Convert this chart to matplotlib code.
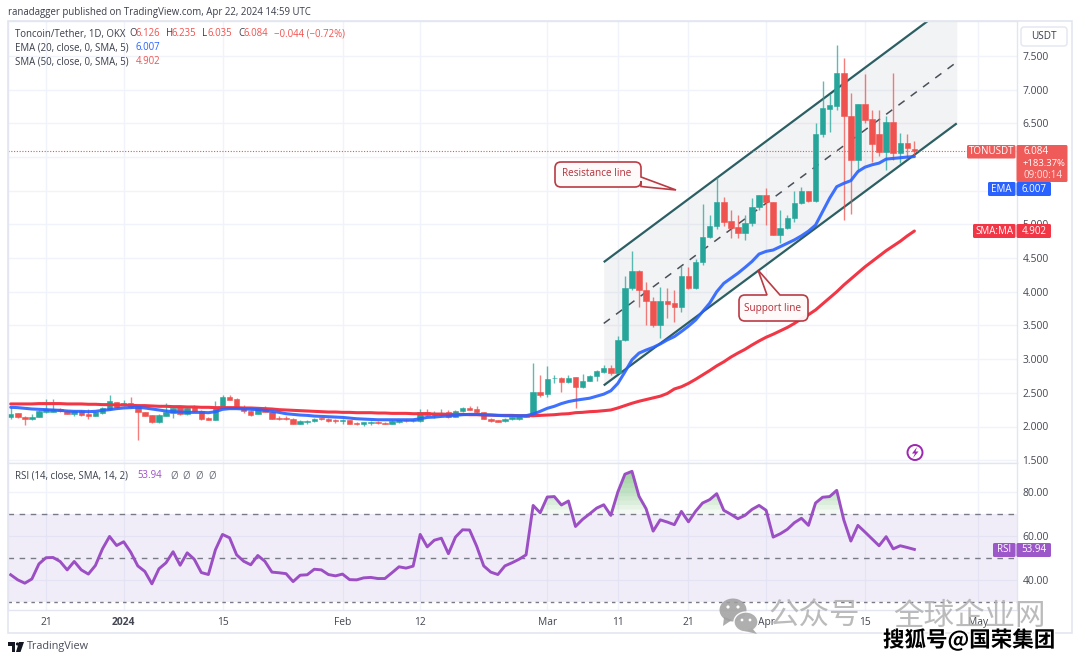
import numpy as np
import matplotlib
matplotlib.use("Agg")
import matplotlib.pyplot as plt
import matplotlib.patheffects as pe
from matplotlib.patches import FancyBboxPatch, Rectangle, Polygon, PathPatch, Circle, Ellipse
from matplotlib.path import Path

plt.rcParams['font.family'] = ['Open Sans', 'DejaVu Sans']

first_day = -5  # days counted from 21 Dec 2023
opens = [2.136, 2.196, 2.146, 2.11, 2.14,
         2.21, 2.22, 2.26, 2.23, 2.185, 2.225, 2.185, 2.15, 2.20, 2.26,
         2.365, 2.315, 2.35, 2.29, 2.22, 2.165, 2.07, 2.16, 2.20, 2.285,
         2.19, 2.29, 2.23, 2.125, 2.10, 2.275, 2.44, 2.41, 2.28, 2.23,
         2.185, 2.28, 2.22, 2.125, 2.125, 2.115, 2.035, 2.07, 2.075, 2.12,
         2.11, 2.09, 2.075, 2.09, 2.055, 2.04, 2.045, 2.065, 2.055, 2.04,
         2.06, 2.09, 2.08, 2.075, 2.21, 2.175, 2.18, 2.21, 2.145, 2.225,
         2.27, 2.26, 2.21, 2.115, 2.09, 2.08, 2.105, 2.11, 2.145, 2.156,
         2.51, 2.48, 2.715, 2.715, 2.655, 2.73, 2.585, 2.675, 2.75, 2.815,
         2.875, 2.80, 3.285, 4.05, 4.315, 4.03, 3.87, 3.51, 3.865, 3.83,
         3.78, 4.23, 4.05, 4.44, 4.81, 4.97, 5.33, 5.05, 4.96, 4.88,
         5.02, 5.265, 5.43, 5.335, 4.845, 4.94, 5.09, 5.315, 5.49, 5.35,
         6.34, 6.715, 6.765, 7.255, 6.61, 5.96, 6.785, 6.56, 6.34, 6.08,
         6.515, 6.055, 6.205, 6.126]
closes = [2.186, 2.14, 2.11, 2.146, 2.23,
          2.255, 2.255, 2.225, 2.185, 2.235, 2.17, 2.15, 2.21, 2.275, 2.375,
          2.29, 2.355, 2.29, 2.21, 2.16, 2.07, 2.17, 2.21, 2.275, 2.185,
          2.275, 2.225, 2.115, 2.10, 2.275, 2.44, 2.40, 2.275, 2.225, 2.175,
          2.275, 2.215, 2.115, 2.115, 2.115, 2.035, 2.075, 2.08, 2.115, 2.11,
          2.08, 2.08, 2.09, 2.035, 2.035, 2.06, 2.06, 2.045, 2.04, 2.08,
          2.09, 2.08, 2.095, 2.21, 2.165, 2.20, 2.20, 2.135, 2.235, 2.27,
          2.25, 2.21, 2.115, 2.08, 2.065, 2.115, 2.14, 2.15, 2.16, 2.51,
          2.47, 2.705, 2.725, 2.655, 2.725, 2.585, 2.675, 2.75, 2.825, 2.87,
          2.80, 3.285, 4.05, 4.315, 4.03, 3.87, 3.51, 3.865, 3.82, 3.78,
          4.23, 4.05, 4.44, 4.81, 4.98, 5.33, 5.04, 4.95, 4.88, 5.02,
          5.265, 5.43, 5.33, 4.845, 4.94, 5.09, 5.315, 5.49, 5.35, 6.34,
          6.725, 6.775, 7.255, 6.615, 5.96, 6.785, 6.55, 6.195, 6.08, 6.515,
          6.055, 6.205, 6.13, 6.084]
highs = [2.29, 2.20, 2.15, 2.19, 2.24,
         2.41, 2.41, 2.28, 2.24, 2.25, 2.24, 2.26, 2.22, 2.29, 2.47,
         2.37, 2.39, 2.44, 2.30, 2.22, 2.17, 2.18, 2.35, 2.28, 2.31,
         2.29, 2.325, 2.24, 2.14, 2.385, 2.47, 2.47, 2.42, 2.325, 2.25,
         2.28, 2.31, 2.23, 2.16, 2.15, 2.12, 2.09, 2.10, 2.12, 2.13,
         2.12, 2.11, 2.11, 2.095, 2.07, 2.07, 2.075, 2.075, 2.06, 2.10,
         2.10, 2.11, 2.11, 2.26, 2.26, 2.23, 2.26, 2.24, 2.24, 2.29,
         2.30, 2.31, 2.22, 2.12, 2.10, 2.13, 2.145, 2.16, 2.18, 2.95,
         2.76, 2.90, 2.76, 2.74, 2.765, 2.74, 2.775, 2.765, 2.84, 2.91,
         2.91, 3.35, 4.24, 4.60, 4.33, 4.14, 3.92, 4.075, 4.05, 4.03,
         4.39, 4.365, 4.48, 5.30, 5.14, 5.71, 5.40, 5.21, 5.14, 5.14,
         5.39, 5.44, 5.54, 5.34, 5.215, 5.14, 5.50, 5.56, 5.50, 6.50,
         7.13, 6.93, 7.67, 7.47, 6.95, 6.79, 7.23, 6.70, 6.70, 6.61,
         7.245, 6.355, 6.34, 6.235]
lows = [2.11, 2.13, 2.02, 2.10, 2.14,
        2.20, 2.21, 2.21, 2.18, 2.15, 2.16, 2.11, 2.15, 2.19, 2.25,
        2.28, 2.31, 2.28, 1.80, 2.15, 2.05, 2.05, 2.15, 2.125, 2.17,
        2.17, 2.22, 2.10, 2.09, 2.095, 2.27, 2.39, 2.27, 2.20, 2.16,
        2.18, 2.21, 2.11, 2.10, 2.10, 2.03, 2.03, 2.04, 2.07, 2.10,
        2.07, 2.05, 2.04, 2.03, 2.02, 2.01, 2.02, 2.04, 2.03, 2.03,
        2.05, 2.06, 2.07, 2.07, 2.16, 2.13, 2.15, 2.13, 2.14, 2.22,
        2.24, 2.20, 2.11, 2.07, 2.06, 2.07, 2.095, 2.10, 2.14, 2.15,
        2.44, 2.44, 2.65, 2.51, 2.64, 2.27, 2.565, 2.67, 2.68, 2.79,
        2.765, 2.795, 3.27, 4.02, 3.78, 3.51, 3.47, 3.32, 3.61, 3.55,
        3.70, 4.04, 4.04, 4.40, 4.795, 4.93, 4.97, 4.80, 4.80, 4.77,
        4.98, 5.215, 4.99, 4.84, 4.72, 4.93, 5.04, 5.30, 5.34, 5.34,
        6.30, 6.37, 6.70, 5.06, 5.155, 5.785, 6.50, 5.92, 6.02, 5.81,
        5.96, 5.91, 5.97, 6.035]
ema20 = [2.285, 2.28, 2.27, 2.26, 2.255,
         2.25, 2.245, 2.24, 2.23, 2.225, 2.225, 2.22, 2.225, 2.24, 2.25,
         2.265, 2.275, 2.28, 2.285, 2.275, 2.26, 2.245, 2.23, 2.22, 2.215,
         2.21, 2.21, 2.21, 2.205, 2.22, 2.255, 2.265, 2.265, 2.26, 2.255,
         2.25, 2.24, 2.225, 2.21, 2.19, 2.18, 2.17, 2.165, 2.155, 2.15,
         2.145, 2.14, 2.135, 2.125, 2.115, 2.11, 2.105, 2.10, 2.10, 2.10,
         2.10, 2.10, 2.10, 2.115, 2.135, 2.14, 2.15, 2.155, 2.165, 2.175,
         2.18, 2.18, 2.175, 2.17, 2.165, 2.16, 2.16, 2.16, 2.16, 2.186,
         2.225, 2.27, 2.30, 2.34, 2.37, 2.39, 2.405, 2.42, 2.45, 2.48,
         2.53, 2.64, 2.81, 2.99, 3.09, 3.135, 3.175, 3.225, 3.285, 3.335,
         3.41, 3.49, 3.58, 3.705, 3.83, 4.00, 4.125, 4.20, 4.275, 4.36,
         4.45, 4.56, 4.60, 4.62, 4.67, 4.72, 4.77, 4.83, 4.90, 4.99,
         5.19, 5.39, 5.56, 5.61, 5.65, 5.785, 5.85, 5.885, 5.91, 5.97,
         5.98, 5.99, 6.00, 6.007]
sma50 = [2.335, 2.335, 2.335, 2.335, 2.34,
         2.34, 2.34, 2.34, 2.335, 2.335, 2.335, 2.33, 2.33, 2.325, 2.325,
         2.32, 2.32, 2.315, 2.31, 2.31, 2.305, 2.30, 2.30, 2.295, 2.295,
         2.29, 2.29, 2.285, 2.285, 2.28, 2.28, 2.28, 2.28, 2.275, 2.275,
         2.27, 2.265, 2.26, 2.25, 2.245, 2.24, 2.235, 2.23, 2.225, 2.22,
         2.215, 2.215, 2.21, 2.21, 2.205, 2.205, 2.205, 2.20, 2.20, 2.195,
         2.195, 2.195, 2.19, 2.19, 2.19, 2.185, 2.185, 2.18, 2.18, 2.18,
         2.175, 2.175, 2.17, 2.17, 2.165, 2.165, 2.165, 2.16, 2.16, 2.16,
         2.165, 2.17, 2.175, 2.185, 2.19, 2.205, 2.21, 2.22, 2.225, 2.235,
         2.245, 2.275, 2.31, 2.345, 2.375, 2.40, 2.425, 2.45, 2.49, 2.557,
         2.59, 2.64, 2.70, 2.765, 2.83, 2.90, 2.96, 3.03, 3.09, 3.145,
         3.21, 3.27, 3.325, 3.37, 3.42, 3.47, 3.53, 3.60, 3.66, 3.73,
         3.82, 3.91, 4.00, 4.10, 4.19, 4.28, 4.37, 4.45, 4.53, 4.61,
         4.68, 4.75, 4.83, 4.902]
rsi = [42.5, 40.2, 38.7, 40.6, 47.4,
       50.2, 50.3, 48.5, 44.7, 48.5, 44.7, 42.8, 46.7, 54.2, 59.8,
       55.7, 57.4, 52.7, 46.5, 44.0, 38.4, 45.2, 47.9, 52.9, 46.8,
       52.4, 49.5, 43.5, 42.6, 53.8, 60.7, 59.2, 51.5, 48.6, 47.0,
       51.2, 48.6, 43.7, 43.4, 43.0, 39.4, 42.3, 42.5, 45.0, 44.7,
       42.6, 42.0, 42.8, 40.3, 40.2, 41.1, 41.3, 40.8, 40.8, 43.4,
       46.1, 45.5, 46.4, 60.7, 55.1, 58.1, 59.0, 52.0, 59.5, 62.8,
       62.7, 55.4, 46.5, 43.7, 42.6, 46.5, 47.9, 49.5, 51.5, 73.8,
       70.5, 77.6, 77.8, 74.0, 75.8, 64.3, 67.5, 70.0, 72.6, 74.1,
       69.3, 79.9, 87.9, 89.2, 77.9, 72.3, 62.2, 67.3, 66.3, 65.1,
       71.1, 66.4, 71.1, 74.9, 76.4, 79.1, 71.6, 69.8, 67.8, 69.3,
       72.0, 73.8, 71.6, 59.5, 61.0, 63.0, 66.0, 68.0, 64.8, 74.9,
       77.5, 77.8, 80.6, 67.3, 57.7, 64.8, 61.8, 58.7, 55.6, 59.7,
       54.2, 55.6, 54.8, 53.94]
price_ticks = [1.5, 2.0, 2.5, 3.0, 3.5, 4.0, 4.5, 5.0, 5.5, 6.0, 6.5, 7.0, 7.5]
hidden_price_labels = [5.5, 6.0]  # covered by the EMA / last-price labels in the reference
rsi_ticks = [40, 60, 80]
time_tick_days = [0, 11, 25, 42, 53, 71, 81, 91, 102, 116, 132]
time_tick_labels = ['21', '2024', '15', 'Feb', '12', 'Mar', '11', '21', 'Apr', '15', 'May']
channel_days = [79, 129]
channel_top = [4.44, 8.34]
channel_mid = [3.53, 7.41]
channel_low = [2.61, 6.50]

W, H = 1080, 662
UP, DOWN = '#26a69a', '#ef5350'
BLUE, RED, PURPLE = '#2962ff', '#f23645', '#9c4fc4'
GRID = '#f0f3fa'
FRAME = '#e3e6f0'
TXT = '#3a3e4a'
TICK = '#434651'
SMALL = 6.9

days = np.arange(first_day, first_day + len(opens))
fig = plt.figure(figsize=(W / 100, H / 100), dpi=100, facecolor='white')


def rect(x0, y0, x1, y1):
    return [x0 / W, 1 - y1 / H, (x1 - x0) / W, (y1 - y0) / H]


ax = fig.add_axes(rect(8, 21, 1017, 463))
ax2 = fig.add_axes(rect(8, 463, 1017, 610))
for a in (ax, ax2):
    a.set_xticks(time_tick_days)
    a.set_xlim((8 - 46) / 7.06, (1017 - 46) / 7.06)
    a.grid(True, axis='both', color=GRID, lw=1)
    a.set_axisbelow(True)
    a.yaxis.tick_right()
    for s in a.spines.values():
        s.set_color(FRAME)
        s.set_linewidth(1)

# price pane
ax.set_yticks(price_ticks)
ax.set_ylim(2 - (463 - 426.5) / 67.36, 2 + (426.5 - 21) / 67.36)
ax.set_yticklabels(['' if v in hidden_price_labels else f'{v:.3f}' for v in price_ticks],
                   fontsize=7.4, color=TICK)
ax.tick_params(axis='y', length=0, pad=4)
ax.tick_params(axis='x', length=0, labelbottom=False)

ax.fill_between(channel_days, channel_low, channel_top, color='#787b86', alpha=0.09, lw=0, zorder=1)
ax.plot(channel_days, channel_top, color='#2c5f63', lw=1.6, zorder=2, solid_capstyle='butt')
ax.plot(channel_days, channel_low, color='#2c5f63', lw=1.6, zorder=2, solid_capstyle='butt')
ax.plot(channel_days, channel_mid, color='#4a4f59', lw=1.1, ls=(0, (5, 5)), zorder=2)
ax.axhline(closes[-1], color=DOWN, lw=0.8, ls=(0, (1, 1.5)), zorder=2)

colors = [UP if c >= o else DOWN for o, c in zip(opens, closes)]
ax.vlines(days, lows, highs, colors=colors, lw=1.0, alpha=0.75, zorder=3)
ax.bar(days, np.abs(np.array(closes) - np.array(opens)), bottom=np.minimum(opens, closes),
       width=0.78, color=colors, edgecolor=colors, lw=0.4, zorder=4)
ax.plot(days, sma50, color=RED, lw=2.2, zorder=5, solid_capstyle='round')
ax.plot(days, ema20, color=BLUE, lw=2.2, zorder=6, solid_capstyle='round', alpha=0.9)

# RSI pane
ax2.set_yticks(rsi_ticks)
ax2.set_ylim(40 - (610 - 580.3) / 2.215, 40 + (580.3 - 463) / 2.215)
ax2.set_yticklabels([f'{v:.2f}' for v in rsi_ticks], fontsize=7.4, color=TICK)
ax2.tick_params(axis='y', length=0, pad=4)
ax2.set_xticklabels(time_tick_labels, fontsize=7.4, color=TICK)
ax2.get_xticklabels()[1].set_fontweight('bold')
ax2.tick_params(axis='x', length=0, pad=5)
ax2.axhspan(30, 70, color='#7e57c2', alpha=0.10, lw=0, zorder=1)
for lvl, dash in ((70, (4, 4)), (50, (4, 4)), (30, (2.5, 3))):
    ax2.plot(ax2.get_xlim(), [lvl, lvl], color='#787b86', lw=1, ls=(0, dash), zorder=2)
rsi_arr = np.array(rsi)
for lv in range(70, 90, 2):
    ax2.fill_between(days, lv, rsi_arr, where=rsi_arr > lv, interpolate=True,
                     color='#4caf50', alpha=0.07, lw=0, zorder=2)
ax2.plot(days, rsi, color=PURPLE, lw=2.1, zorder=4, solid_joinstyle='round')

# overlay in pixel coordinates
ov = fig.add_axes([0, 0, 1, 1], zorder=10)
ov.set_xlim(0, W)
ov.set_ylim(H, 0)
ov.axis('off')
ov.patch.set_alpha(0)
ov.add_patch(Rectangle((8, 21), 1064, 612, fill=False, ec=FRAME, lw=1.2, zorder=0))


def t(x, y, s, color=TXT, size=SMALL, ha='left', va='center', **kw):
    return ov.text(x, y, s, color=color, fontsize=size, ha=ha, va=va, zorder=6, **kw)


t(8, 12, 'ranadagger published on TradingView.com, Apr 22, 2024 14:59 UTC')
t(15, 34, 'Toncoin/Tether, 1D, OKX')
for x, s, c in [(129, 'O', TXT), (135, '6.126', DOWN), (166, 'H', TXT), (172, '6.235', DOWN),
                (202, 'L', TXT), (207, '6.035', DOWN), (238, 'C', TXT), (244, '6.084', DOWN),
                (274, '\u22120.044 (\u22120.72%)', DOWN)]:
    t(x, 34, s, color=c)
t(15, 48, 'EMA (20, close, 0, SMA, 5)')
t(136, 48, '6.007', color=BLUE)
t(15, 62, 'SMA (50, close, 0, SMA, 5)')
t(136, 62, '4.902', color=DOWN)
t(15, 476, 'RSI (14, close, SMA, 14, 2)')
t(137, 476, '53.94', color=PURPLE)
for x in (170, 182.5, 195, 208):
    t(x, 476, '\u00d8', color='#6a6d78')

# currency button
ov.add_patch(FancyBboxPatch((1021, 27), 46, 19, boxstyle='round,pad=0,rounding_size=3',
                            fc='white', ec=FRAME, lw=1, zorder=5))
t(1044, 36.5, 'USDT', ha='center', size=7.2)


def label(x0, y0, x1, y1, s, color, tcolor='white', ha='center', **kw):
    ov.add_patch(FancyBboxPatch((x0, y0), x1 - x0, y1 - y0, boxstyle='round,pad=0,rounding_size=1.5',
                                fc=color, ec='none', zorder=5))
    t((x0 + x1) / 2, (y0 + y1) / 2, s, color=tcolor, ha=ha, size=7.0, **kw)


label(967, 145, 1015.5, 158.5, 'TONUSDT', '#ef5b58')
ov.add_patch(FancyBboxPatch((1016.5, 145), 51, 37, boxstyle='round,pad=0,rounding_size=1.5',
                            fc='#ef5b58', ec='none', zorder=5))
t(1023, 152, f'{closes[-1]:.3f}', color='white', size=7.0)
t(1023, 164, '+183.37%', color='white', size=6.8)
t(1023, 175, '09:00:14', color='#ffe4e3', size=7.0)
label(988, 182, 1015.5, 196, 'EMA', BLUE)
label(1016.5, 182, 1051, 196, f'{ema20[-1]:.3f}', BLUE)
label(973, 224, 1015.5, 238, 'SMA:MA', RED)
label(1016.5, 224, 1051, 238, f'{sma50[-1]:.3f}', RED)
label(993, 543, 1015.5, 557, 'RSI', '#9c58c8')
label(1016.5, 543, 1051, 557, f'{rsi[-1]:.2f}', '#9c58c8')


def callout(x0, y0, x1, y1, r, tail, edge):
    """Rounded box with a pointer inserted on the right ('r') or top ('t') edge."""
    M, L, C = Path.MOVETO, Path.LINETO, Path.CURVE3
    v = [(x0 + r, y0)]
    c = [M]
    if edge == 't':
        for p in tail:
            v.append(p); c.append(L)
    v += [(x1 - r, y0), (x1, y0), (x1, y0 + r)]
    c += [L, C, C]
    if edge == 'r':
        for p in tail:
            v.append(p); c.append(L)
    v += [(x1, y1 - r), (x1, y1), (x1 - r, y1), (x0 + r, y1), (x0, y1), (x0, y1 - r),
          (x0, y0 + r), (x0, y0), (x0 + r, y0)]
    c += [L, C, C, L, C, C, L, C, C]
    ov.add_patch(PathPatch(Path(v, c), fc='#fffafa', ec='#b5303a', lw=1.2, zorder=5, alpha=0.95))


callout(555, 162, 641, 187, 6, [(641, 177), (676, 190), (641, 186.5)], 'r')
t(597, 174, 'Resistance line', color='#b5303a', ha='center', size=7.2)
callout(739, 295, 808, 321, 6, [(767, 295), (758, 270), (780, 295)], 't')
t(773, 308, 'Support line', color='#b5303a', ha='center', size=7.2)

# replay / flash icon
ov.add_patch(Circle((915, 452.5), 7.5, fc='white', ec='#9c27b0', lw=1.4, zorder=5))
ov.add_patch(Polygon([(917, 447), (912, 453.5), (915, 453.5), (913, 458), (918.5, 451.5), (915.5, 451.5)],
                     fc='#9c27b0', ec='none', zorder=6))

# TradingView logo
ov.add_patch(Polygon([(8, 642), (15, 642), (15, 652), (12, 652), (12, 646), (8, 646)], fc='#131722', ec='none'))
ov.add_patch(Circle((17.5, 644), 1.6, fc='#131722', ec='none'))
ov.add_patch(Polygon([(19, 642), (24, 642), (20.5, 652), (16, 652)], fc='#131722', ec='none'))
t(27, 647, 'TradingView', color='#4a4e5a', size=7.8)

# watermarks
wm = dict(color='#b0b0b0', alpha=0.85, family=['Noto Sans CJK SC', 'DejaVu Sans'])
ov.add_patch(Ellipse((733, 610), 27, 23, fc='#9e9e9e', ec='none', alpha=0.85, zorder=7))
ov.add_patch(Polygon([(724, 617), (723, 626), (732, 620)], fc='#9e9e9e', ec='none', alpha=0.85, zorder=7))
ov.add_patch(Ellipse((746, 622), 24, 20, fc='#ababab', ec='white', lw=1, alpha=0.95, zorder=7))
ov.add_patch(Polygon([(752, 628), (757, 634), (745, 631)], fc='#ababab', ec='none', zorder=7))
for cx, cy in [(728, 607), (738, 607)]:
    ov.add_patch(Circle((cx, cy), 1.6, fc='white', ec='none', zorder=8))
for cx, cy in [(742, 620), (750, 620)]:
    ov.add_patch(Circle((cx, cy), 1.4, fc='white', ec='none', zorder=8))
ov.text(814, 616, '公众号', fontsize=22, ha='center', va='center', zorder=7, **wm)
ov.text(969, 616, '全球企业网', fontsize=22, ha='center', va='center', zorder=7, **wm)
ov.text(969, 640, '搜狐号@国荣集团', fontsize=15.5, ha='center', va='center', color='black', zorder=8,
        family=['Noto Sans CJK SC', 'DejaVu Sans'], fontweight='bold',
        path_effects=[pe.withStroke(linewidth=2, foreground='white')])

fig.savefig('out.png', dpi=100)
